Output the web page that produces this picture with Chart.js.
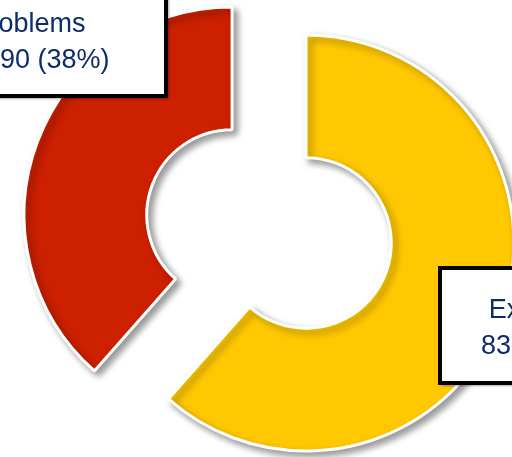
<!DOCTYPE html>
<html lang="en">
<head>
    <meta charset="UTF-8">
    <title>Doughnut</title>
    <script src="https://cdn.jsdelivr.net/npm/chart.js"></script>
    <style>
        html, body { margin: 0; padding: 0; overflow: hidden; background: #fff; }
        #wrap { position: absolute; left: -181px; top: -221px; width: 900px; height: 900px; }
    </style>
</head>
<body>
    <div id="wrap"><canvas id="chart"></canvas></div>

    <script>
        const labels = ['Expectations', 'Problems'];
        const values = [83080, 51990];
        const colors = ['#ffc800', '#cc2000'];

        const total = values.reduce((a, b) => a + b, 0);
        const valueText = values.map(v =>
            v.toLocaleString('en-US') + ' (' + Math.round(v / total * 100) + '%)');

        const explode = 39.5; // px each slice is pulled out along its mid angle

        // draw slices pulled apart, with a soft shadow
        const explodedSlices = {
            id: 'explodedSlices',
            beforeDatasetDraw(chart, args) {
                const ctx = chart.ctx;
                args.meta.data.forEach(arc => {
                    const mid = (arc.startAngle + arc.endAngle) / 2;
                    ctx.save();
                    ctx.translate(Math.cos(mid) * explode, Math.sin(mid) * explode);
                    ctx.shadowColor = 'rgba(0,0,0,0.4)';
                    ctx.shadowBlur = 7;
                    ctx.shadowOffsetX = 4;
                    ctx.shadowOffsetY = 4;
                    arc.draw(ctx);
                    ctx.restore();
                });
                return false;
            }
        };

        // label boxes, placed relative to the chart centre
        const boxes = [
            { x: 171, y: 39, w: 244, h: 115, dy: 3, dx: 4 },
            { x: -378, y: -245, w: 275, h: 112, dy: 3, dx: 0 }
        ];
        const labelBoxes = {
            id: 'labelBoxes',
            afterDraw(chart) {
                const ctx = chart.ctx;
                const cx = (chart.chartArea.left + chart.chartArea.right) / 2;
                const cy = (chart.chartArea.top + chart.chartArea.bottom) / 2;
                boxes.forEach((b, i) => {
                    const x = cx + b.x, y = cy + b.y;
                    ctx.save();
                    ctx.shadowColor = 'rgba(0,0,0,0.6)';
                    ctx.shadowBlur = 3;
                    ctx.shadowOffsetX = 2;
                    ctx.shadowOffsetY = 2;
                    ctx.fillStyle = '#fff';
                    ctx.fillRect(x, y, b.w, b.h);
                    ctx.restore();
                    ctx.save();
                    ctx.strokeStyle = '#000';
                    ctx.lineWidth = 4;
                    ctx.strokeRect(x, y, b.w, b.h);
                    ctx.fillStyle = '#0c2c6c';
                    ctx.font = "27px 'Liberation Sans', Arial, sans-serif";
                    ctx.textAlign = 'center';
                    ctx.textBaseline = 'middle';
                    ctx.fillText(labels[i], x + b.w / 2 + b.dx, y + b.h / 2 - 18 + b.dy);
                    ctx.fillText(valueText[i], x + b.w / 2, y + b.h / 2 + 18 + b.dy);
                    ctx.restore();
                });
            }
        };

        const ctx = document.getElementById('chart').getContext('2d');
        new Chart(ctx, {
            type: 'doughnut',
            data: {
                labels: labels,
                datasets: [{
                    data: values,
                    backgroundColor: colors,
                    borderColor: '#fff',
                    borderWidth: 3,
                    hoverOffset: 0
                }]
            },
            options: {
                responsive: true,
                maintainAspectRatio: false,
                animation: false,
                radius: 208,
                cutout: '41%',
                layout: { padding: 0 },
                events: [],
                plugins: {
                    legend: { display: false },
                    tooltip: { enabled: false }
                }
            },
            plugins: [explodedSlices, labelBoxes]
        });
    </script>
</body>
</html>
